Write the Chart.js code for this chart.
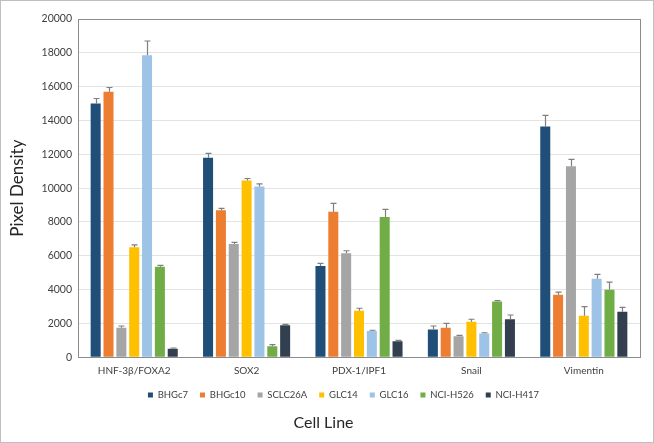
<!DOCTYPE html>
<html>
<head>
<meta charset="utf-8">
<script src="https://cdn.jsdelivr.net/npm/chart.js@4.4.0/dist/chart.umd.min.js"></script>
<style>
  html, body { margin: 0; padding: 0; background: #fff; }
  #wrap { width: 652px; height: 441px; border: 1px solid #bfbfbf; }
</style>
</head>
<body>
<div id="wrap"><canvas id="myChart" width="652" height="441"></canvas></div>
<script>
// categories and series
const cellMarkers = ['HNF-3\u03B2/FOXA2', 'SOX2', 'PDX-1/IPF1', 'Snail', 'Vimentin'];
const lineNames = ['BHGc7', 'BHGc10', 'SCLC26A', 'GLC14', 'GLC16', 'NCI-H526', 'NCI-H417'];
const lineColors = ['#1F4E79', '#ED7D31', '#A5A5A5', '#FFC000', '#9DC3E6', '#70AD47', '#323F4F'];

const bhgc7   = [15000, 11800, 5400, 1650, 13650];
const bhgc10  = [15700, 8700, 8600, 1750, 3700];
const sclc26a = [1750, 6700, 6150, 1250, 11300];
const glc14   = [6500, 10450, 2750, 2100, 2450];
const glc16   = [17850, 10100, 1550, 1400, 4650];
const h526    = [5350, 650, 8300, 3300, 4000];
const h417    = [500, 1900, 950, 2250, 2700];

// error bar (upper) sizes
const bhgc7Err   = [300, 250, 150, 200, 650];
const bhgc10Err  = [250, 100, 500, 250, 150];
const sclc26aErr = [100, 100, 150, 50, 400];
const glc14Err   = [150, 120, 150, 150, 550];
const glc16Err   = [850, 150, 50, 50, 250];
const h526Err    = [80, 100, 450, 50, 450];
const h417Err    = [50, 50, 50, 250, 250];

const yTicks = [0, 2000, 4000, 6000, 8000, 10000, 12000, 14000, 16000, 18000, 20000];

const seriesValues = [bhgc7, bhgc10, sclc26a, glc14, glc16, h526, h417];
const seriesErrors = [bhgc7Err, bhgc10Err, sclc26aErr, glc14Err, glc16Err, h526Err, h417Err];

const font = 'Lato, "Open Sans", sans-serif';

// draws the error whiskers on top of each bar
const errorBars = {
  id: 'errorBars',
  afterDatasetsDraw(chart) {
    const ctx = chart.ctx;
    const y = chart.scales.y;
    ctx.save();
    ctx.strokeStyle = '#7f7f7f';
    ctx.lineWidth = 1.2;
    chart.data.datasets.forEach((ds, i) => {
      const meta = chart.getDatasetMeta(i);
      meta.data.forEach((bar, j) => {
        const top = y.getPixelForValue(ds.data[j] + ds.errors[j]);
        const x = Math.round(bar.x) + 0.5;
        ctx.beginPath();
        ctx.moveTo(x, bar.y);
        ctx.lineTo(x, top);
        ctx.moveTo(x - 3, top);
        ctx.lineTo(x + 3, top);
        ctx.stroke();
      });
    });
    ctx.restore();
  }
};

// box around the plot area; legend sits a bit right of centre like the original
const plotFrame = {
  id: 'plotFrame',
  afterLayout(chart) {
    chart.legend.left += 20;
    chart.legend.right += 20;
  },
  afterDraw(chart) {
    const a = chart.chartArea;
    const ctx = chart.ctx;
    ctx.save();
    ctx.strokeStyle = '#8c8c8c';
    ctx.lineWidth = 1;
    ctx.strokeRect(Math.round(a.left) + 0.5, Math.round(a.top) + 0.5,
      Math.round(a.right - a.left), Math.round(a.bottom - a.top));
    ctx.restore();
  }
};

new Chart(document.getElementById('myChart'), {
  type: 'bar',
  data: {
    labels: cellMarkers,
    datasets: lineNames.map((name, i) => ({
      label: name,
      data: seriesValues[i],
      errors: seriesErrors[i],
      backgroundColor: lineColors[i],
      borderWidth: 0,
      barPercentage: 0.78,
      categoryPercentage: 0.8
    }))
  },
  options: {
    responsive: false,
    animation: false,
    layout: { padding: { left: 6, right: 13, top: 18, bottom: 8 } },
    plugins: {
      tooltip: { enabled: false },
      legend: {
        position: 'bottom',
        labels: {
          usePointStyle: true,
          pointStyle: 'rect',
          boxWidth: 5,
          boxHeight: 5,
          padding: 12,
          color: '#404040',
          font: { family: font, size: 9.5 }
        }
      },
      title: {
        display: true,
        position: 'bottom',
        text: 'Cell Line',
        color: '#262626',
        font: { family: font, size: 16, weight: 'normal' },
        padding: { top: 3, bottom: 2 }
      }
    },
    scales: {
      x: {
        grid: { display: false, drawTicks: false },
        border: { color: '#8c8c8c' },
        afterFit: (s) => { s.height = 21; },
        ticks: { color: '#404040', padding: 7, font: { family: font, size: 10 }, maxRotation: 0 }
      },
      y: {
        min: 0,
        max: 20000,
        afterBuildTicks: (s) => { s.ticks = yTicks.map(v => ({ value: v })); },
        afterFit: (s) => { s.width = 71; },
        grid: { color: '#e3e3e3', drawTicks: false },
        border: { color: '#8c8c8c' },
        ticks: {
          color: '#404040', padding: 6, font: { family: font, size: 10.5 },
          callback: (v) => String(v)
        },
        title: {
          display: true,
          text: 'Pixel Density',
          color: '#262626',
          font: { family: font, size: 17 },
          padding: { top: 0, bottom: 6 }
        }
      }
    }
  },
  plugins: [errorBars, plotFrame]
});
</script>
</body>
</html>
